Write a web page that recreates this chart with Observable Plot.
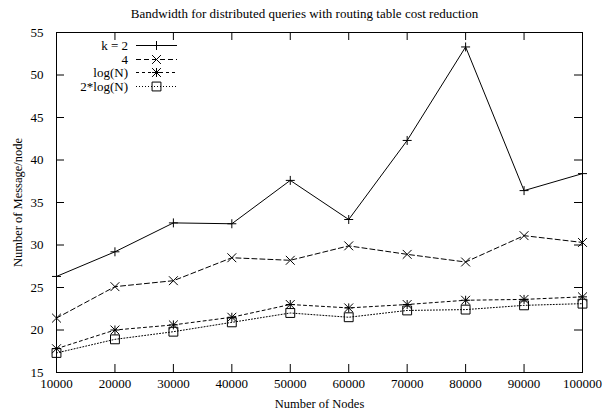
<!DOCTYPE html>
<html>
<head>
<meta charset="utf-8">
<script src="https://cdn.jsdelivr.net/npm/d3@7"></script>
<script src="https://cdn.jsdelivr.net/npm/@observablehq/plot@0.6"></script>
<style>
  html, body { margin: 0; padding: 0; background: #fff; }
  #wrap { position: relative; width: 608px; height: 415px; font-family: "Liberation Serif", "Times New Roman", serif; }
  #legend { position: absolute; left: 60px; top: 39px; font-size: 13px; line-height: 13.5px; color: #000; }
  #legend .row { display: flex; align-items: center; height: 13.5px; }
  #legend .lab { width: 68px; text-align: right; padding-right: 8px; }
  #legend svg { display: block; }
</style>
</head>
<body>
<div id="wrap"></div>
<script>
const title = "Bandwidth for distributed queries with routing table cost reduction";
const xLabel = "Number of Nodes";
const yLabel = "Number of Message/node";

const nodes = [10000, 20000, 30000, 40000, 50000, 60000, 70000, 80000, 90000, 100000];
const k2 = [26.3, 29.2, 32.6, 32.5, 37.6, 33.0, 42.3, 53.3, 36.4, 38.4];
const k4 = [21.4, 25.1, 25.8, 28.5, 28.2, 29.9, 28.9, 28.0, 31.1, 30.3];
const logN = [17.8, 20.0, 20.6, 21.5, 23.0, 22.6, 23.0, 23.5, 23.6, 23.9];
const twoLogN = [17.3, 18.9, 19.8, 20.9, 22.0, 21.5, 22.3, 22.4, 22.9, 23.1];

const seriesNames = ["k = 2", "4", "log(N)", "2*log(N)"];
const seriesValues = [k2, k4, logN, twoLogN];
const dashes = [null, "5,3", "3,3", "1,2"];
const symbols = [["plus"], ["times"], ["plus", "times"], ["square"]];
const symbolR = {plus: 3.0, times: 4.1, square: 5.0};

const xTicks = [10000, 20000, 30000, 40000, 50000, 60000, 70000, 80000, 90000, 100000];
const yTicks = [15, 20, 25, 30, 35, 40, 45, 50, 55];
const xInner = xTicks.slice(1, -1);
const yInner = yTicks.slice(1, -1);

const W = 608, H = 415;
const mL = 56, mR = 26, mT = 32, mB = 43;
const innerW = W - mL - mR, innerH = H - mT - mB;
const tickLen = 8;

const rows = [];
seriesNames.forEach((name, i) => {
  nodes.forEach((n, j) => rows.push({series: name, idx: i, x: n, y: seriesValues[i][j]}));
});

const marks = [];
seriesNames.forEach((name, i) => {
  const data = rows.filter(r => r.idx === i);
  marks.push(Plot.line(data, {x: "x", y: "y", stroke: "#000", strokeWidth: 1, strokeDasharray: dashes[i] || undefined}));
  symbols[i].forEach(s => {
    marks.push(Plot.dot(data, {x: "x", y: "y", symbol: s, r: symbolR[s], stroke: "#000", strokeWidth: 1, fill: "none"}));
  });
});

const chart = Plot.plot({
  width: W,
  height: H,
  marginLeft: mL,
  marginRight: mR,
  marginTop: mT,
  marginBottom: mB,
  style: {fontFamily: "Liberation Serif, Times New Roman, serif", fontSize: "13px", background: "#fff", color: "#000"},
  x: {domain: [10000, 100000], ticks: xTicks, tickSize: 0, tickPadding: 6, tickFormat: d3.format("d"), label: null},
  y: {domain: [15, 55], ticks: yTicks, tickSize: 0, tickPadding: 13, label: null},
  marks: [
    Plot.frame({stroke: "#000", strokeWidth: 1}),
    Plot.tickX(xInner, {x: d => d, stroke: "#000", insetTop: innerH - tickLen}),
    Plot.tickX(xInner, {x: d => d, stroke: "#000", insetBottom: innerH - tickLen}),
    Plot.tickY(yInner, {y: d => d, stroke: "#000", insetRight: innerW - tickLen}),
    Plot.tickY(yInner, {y: d => d, stroke: "#000", insetLeft: innerW - tickLen}),
    ...marks,
    Plot.text([title], {frameAnchor: "top", lineAnchor: "middle", textAnchor: "middle", dx: -15, dy: -19, fontSize: 13, fill: "#000"}),
    Plot.text([xLabel], {frameAnchor: "bottom", lineAnchor: "middle", textAnchor: "middle", dy: 31, fontSize: 12.5, fill: "#000"}),
    Plot.text([yLabel], {frameAnchor: "left", lineAnchor: "middle", textAnchor: "middle", dx: -39, rotate: -90, fontSize: 12.5, fill: "#000"})
  ]
});

const wrap = document.getElementById("wrap");
wrap.appendChild(chart);

// Legend (HTML overlay inside the plot frame, top-left)
const legend = document.createElement("div");
legend.id = "legend";
seriesNames.forEach((name, i) => {
  const row = document.createElement("div");
  row.className = "row";
  const lab = document.createElement("div");
  lab.className = "lab";
  lab.textContent = name;
  row.appendChild(lab);
  const sw = d3.create("svg").attr("width", 42).attr("height", 13);
  sw.append("line").attr("x1", 0).attr("x2", 41).attr("y1", 6.5).attr("y2", 6.5)
    .attr("stroke", "#000").attr("stroke-width", 1).attr("stroke-dasharray", dashes[i]);
  symbols[i].forEach(s => {
    const sym = {plus: d3.symbolPlus, times: d3.symbolTimes, square: d3.symbolSquare}[s];
    const r = symbolR[s];
    sw.append("path").attr("transform", "translate(20.5,6.5)")
      .attr("d", d3.symbol(sym, r * r * Math.PI)())
      .attr("fill", "none").attr("stroke", "#000").attr("stroke-width", 1);
  });
  row.appendChild(sw.node());
  legend.appendChild(row);
});
wrap.appendChild(legend);
</script>
</body>
</html>
